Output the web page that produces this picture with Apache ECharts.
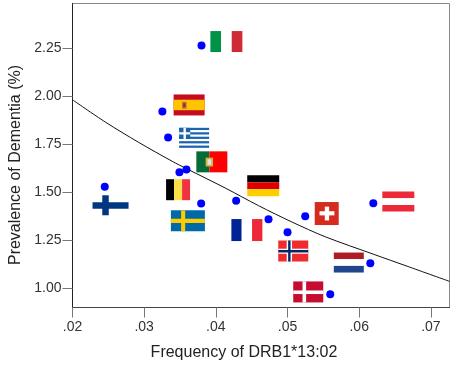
<!DOCTYPE html>
<html><head><meta charset="utf-8">
<style>html,body{margin:0;padding:0;background:#fff}#c{width:458px;height:367px}</style>
<script src="https://cdn.jsdelivr.net/npm/echarts@6/dist/echarts.min.js"></script>
</head><body><div id="c"></div>
<script>
const countries = ['Italy','Spain','Greece','Portugal','Belgium','Finland','Sweden','Germany','France','Switzerland','Norway','Netherlands','Denmark','Austria'];
const frequency = [.0380,.03254,.03334,.0359,.03492,.0245,.03795,.04283,.04735,.05247,.0500,.06155,.05596,.06197];
const prevalence = [2.264,1.92,1.785,1.618,1.604,1.528,1.441,1.455,1.359,1.375,1.292,1.13,.969,1.443];
const flagX = [.04147,.03627,.03697,.03944,.03473,.02531,.0361,.04661,.04433,.05547,.0508,.05855,.05289,.06546];
const flagY = [2.284,1.954,1.783,1.658,1.513,1.432,1.351,1.534,1.303,1.389,1.194,1.134,.981,1.451];
const curveX = [.02,.02458,.02925,.0339,.03599,.0413,.04595,.05061,.05527,.06201,.06668,.0726];
const curveY = [1.981,1.865,1.759,1.661,1.621,1.522,1.430,1.345,1.268,1.177,1.115,1.036];
const xTicks = [.02,.03,.04,.05,.06,.07];
const yTicks = [1,1.25,1.5,1.75,2,2.25];

// flag artwork: [w,h,[x0,y0,x1,y1,colour]...] in fractions of the flag
const stripesH=(...c)=>c.map((k,i)=>[0,i/c.length,1,(i+1)/c.length,k]);
const stripesV=(...c)=>c.map((k,i)=>[i/c.length,0,(i+1)/c.length,1,k]);
const greece=[[0,0,1,1,'#fff']];
for(let i=0;i<9;i+=2)greece.push([0,i/9,1,(i+1)/9,'#1a63ad']);
greece.push([0,0,.37,5/9,'#1a63ad'],[.145,0,.225,5/9,'#fff'],[0,2/9,.37,3/9,'#fff']);
const art = {
 Italy:[32,21,stripesV('#009246','#fff','#ce2b37')],
 Spain:[31,21,[[0,0,1,1,'#c60b1e'],[0,.25,1,.75,'#ffc400'],[.27,.35,.42,.68,'#ad7a3c'],[.31,.42,.38,.6,'#c8102e']]],
 Greece:[30,20,greece],
 Portugal:[31,21,[[0,0,.42,1,'#046a38'],[.42,0,1,1,'#ff0000'],[.3,.3,.54,.72,'#d8b437'],[.36,.38,.48,.64,'#dfe3ee']]],
 Belgium:[24,21,stripesV('#000','#fde047','#ef3340')],
 Finland:[36,20,[[0,0,1,1,'#fff'],[.27,0,.45,1,'#003580'],[0,.35,1,.68,'#003580']]],
 Sweden:[34,21,[[0,0,1,1,'#006aa7'],[.3,0,.42,1,'#fecc00'],[0,.4,1,.6,'#fecc00']]],
 Germany:[32,21,stripesH('#000','#dd0000','#ffce00')],
 France:[31,22,stripesV('#002395','#fff','#ed2939')],
 Switzerland:[24,23,[[0,0,1,1,'#d52b1e'],[.42,.2,.6,.8,'#fff'],[.2,.4,.82,.58,'#fff']]],
 Norway:[30,21,[[0,0,1,1,'#ef2b2d'],[.28,0,.46,1,'#fff'],[0,.39,1,.63,'#fff'],[.33,0,.41,1,'#002868'],[0,.45,1,.57,'#002868']]],
 Netherlands:[30,20,stripesH('#ae1c28','#fff','#21468b')],
 Denmark:[30,21,[[0,0,1,1,'#c60c30'],[.31,0,.43,1,'#fff'],[0,.43,1,.6,'#fff']]],
 Austria:[32,20,stripesH('#ed2939','#fff','#ed2939')]
};

const fmtX=v=>v.toFixed(2).replace(/^0/,'');
const chart=echarts.init(document.getElementById('c'),null,{renderer:'canvas'});
const tickLine={lineStyle:{color:'#777',width:1},length:10};
const font='"Liberation Sans",Arial,sans-serif';
chart.setOption({
 animation:false,
 backgroundColor:'#fff',
 grid:{left:72.5,right:8.5,top:3.5,bottom:59.5,show:true,borderColor:'#888',borderWidth:1,containLabel:false,outerBoundsMode:'none'},
 xAxis:{type:'value',min:.02,max:.0726,splitLine:{show:false},
  axisLine:{onZero:false,lineStyle:{color:'#444',width:1}},
  axisTick:Object.assign({customValues:xTicks},tickLine),
  axisLabel:{customValues:xTicks,formatter:fmtX,color:'#333',fontSize:14,fontFamily:font,margin:13},
  name:'Frequency of DRB1*13:02',nameLocation:'middle',nameGap:37,
  nameTextStyle:{color:'#222',fontSize:16,fontFamily:font,padding:[0,34,0,0]}},
 yAxis:{type:'value',min:.9,max:2.482,splitLine:{show:false},
  axisLine:{onZero:false,lineStyle:{color:'#222',width:1}},
  axisTick:Object.assign({customValues:yTicks},tickLine),
  axisLabel:{customValues:yTicks,formatter:v=>v.toFixed(2),color:'#333',fontSize:14,fontFamily:font,margin:11,padding:[2,0,0,0]},
  name:'Prevalence of Dementia (%)',nameLocation:'middle',nameGap:46,
  nameTextStyle:{color:'#222',fontSize:16,fontFamily:font,padding:[0,19,0,0]}},
 series:[
  {type:'line',data:curveX.map((x,i)=>[x,curveY[i]]),smooth:.3,showSymbol:false,z:2,
   lineStyle:{color:'#111',width:1}},
  {type:'scatter',data:countries.map((c,i)=>[frequency[i],prevalence[i]]),symbolSize:8,z:3,
   itemStyle:{color:'#0000ff',opacity:1}},
  {type:'custom',coordinateSystem:'cartesian2d',z:4,clip:false,
   data:countries.map((c,i)=>[flagX[i],flagY[i],i]),
   encode:{x:0,y:1},
   renderItem(params,api){
     const p=api.coord([api.value(0),api.value(1)]);
     const [w,h,rects]=art[countries[api.value(2)]];
     const x0=p[0]-w/2,y0=p[1]-h/2;
     return {type:'group',children:rects.map(r=>({type:'rect',
       shape:{x:x0+r[0]*w,y:y0+r[1]*h,width:(r[2]-r[0])*w,height:(r[3]-r[1])*h},
       style:{fill:r[4]}}))};
   }}
 ]
});
</script></body></html>
